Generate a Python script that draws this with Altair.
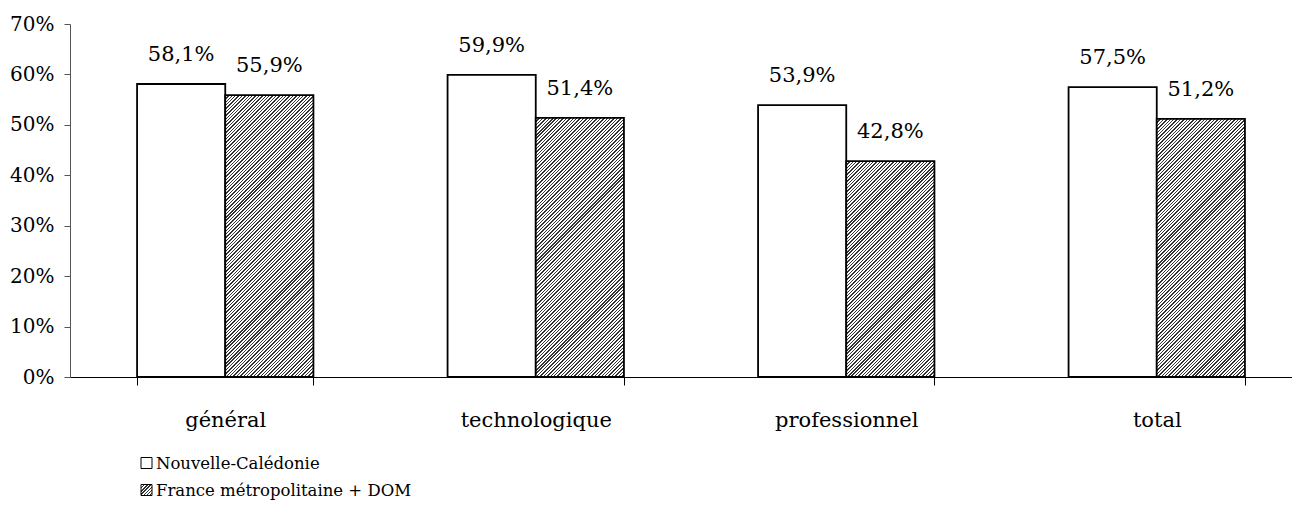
import math
import altair as alt
import pandas as pd

# ---- data ----
categories = ["général", "technologique", "professionnel", "total"]
series = ["Nouvelle-Calédonie", "France métropolitaine + DOM"]
nc_values = [58.1, 59.9, 53.9, 57.5]
fr_values = [55.9, 51.4, 42.8, 51.2]
y_ticks = [0, 0.1, 0.2, 0.3, 0.4, 0.5, 0.6, 0.7]

# ---- layout constants ----
H = 353          # plot height
W = 1222         # visible plot width
X_RANGE = 1242   # full band range (right part cropped like the reference)
YMAX = 0.7
PAD_INNER = 0.432
FONT = "DejaVu Serif"

rows = []
for c, a, b in zip(categories, nc_values, fr_values):
    for s, v in zip(series, (a, b)):
        rows.append({"cat": c, "serie": s, "v": v / 100,
                     "label": f"{v:.1f}%".replace(".", ",")})
df = pd.DataFrame(rows)

step = X_RANGE / len(categories)
bar_w = step * (1 - PAD_INNER) / 2


def hatch(w, h, period=2.4, dark="#333333", light="#ffffff", frac=0.42):
    """Diagonal '/' stripes as an objectBoundingBox linear gradient."""
    k = (w + h) / (w * w + h * h)
    n = max(1, round((w + h) / (math.sqrt(2) * period)))
    stops = []
    for i in range(n):
        a = i / n
        m = (i + frac) / n
        e = (i + 1) / n
        stops += [
            {"offset": a, "color": dark},
            {"offset": m, "color": dark},
            {"offset": m, "color": light},
            {"offset": e, "color": light},
        ]
    return {"gradient": "linear", "x1": 0, "y1": 0,
            "x2": k * w, "y2": k * h, "stops": stops}


x_enc = alt.X(
    "cat:N", sort=categories, title=None,
    scale=alt.Scale(range=[0, X_RANGE], paddingInner=PAD_INNER,
                    paddingOuter=PAD_INNER / 2),
    axis=alt.Axis(labelAngle=0, tickBand="extent", tickSize=8,
                  labelPadding=24, labelFontSize=21, domainColor="#000000",
                  tickColor="#000000", domainWidth=1),
)
xo_enc = alt.XOffset("serie:N", sort=series,
                     scale=alt.Scale(paddingInner=0, paddingOuter=0))
y_enc = alt.Y(
    "v:Q", title=None,
    scale=alt.Scale(domain=[0, YMAX], nice=False),
    axis=alt.Axis(format=".0%", values=y_ticks, grid=False, tickSize=6,
                  labelPadding=10, labelFontSize=20, domainColor="#555555",
                  tickColor="#555555"),
)

base = alt.Chart(df)

white_bars = base.transform_filter(
    alt.datum.serie == series[0]
).mark_bar(fill="#ffffff", stroke="#000000", strokeWidth=1.8).encode(
    x=x_enc, xOffset=xo_enc, y=y_enc
)

layers = [white_bars]
for c, b in zip(categories, fr_values):
    h = b / 100 / YMAX * H
    layers.append(
        base.transform_filter(
            (alt.datum.serie == series[1]) & (alt.datum.cat == c)
        ).mark_bar(fill=hatch(bar_w, h), stroke="#000000",
                   strokeWidth=1.8).encode(x=x_enc, xOffset=xo_enc, y=y_enc)
    )

labels = base.mark_text(
    baseline="alphabetic", dy=-23, font=FONT, fontSize=21, color="#000000"
).encode(x=x_enc, xOffset=xo_enc, y=y_enc, text="label:N")
layers.append(labels)

# ---- manual legend (below the axis, left side) ----
one = pd.DataFrame({"k": [0]})
legend_items = [
    (series[0], "#ffffff", 439),
    (series[1], hatch(11, 11, period=2.3), 466),
]
for name, fill, yc in legend_items:
    layers.append(
        alt.Chart(one).mark_rect(fill=fill, stroke="#000000",
                                 strokeWidth=1).encode(
            x=alt.value(71), x2=alt.value(82),
            y=alt.value(yc - 5.5), y2=alt.value(yc + 5.5))
    )
    layers.append(
        alt.Chart(one).mark_text(align="left", baseline="middle", font=FONT,
                                 fontSize=16.5, color="#000000",
                                 text=name).encode(
            x=alt.value(86), y=alt.value(yc + 1))
    )

chart = alt.layer(*layers).properties(
    width=W, height=H,
    autosize=alt.AutoSizeParams(type="none"),
    padding={"left": 62, "top": 16, "right": 0, "bottom": 124},
).configure_view(stroke=None).configure_axis(
    labelFont=FONT, labelColor="#000000"
)

chart.save("out.html", embed_options={"renderer": "svg", "actions": False})
